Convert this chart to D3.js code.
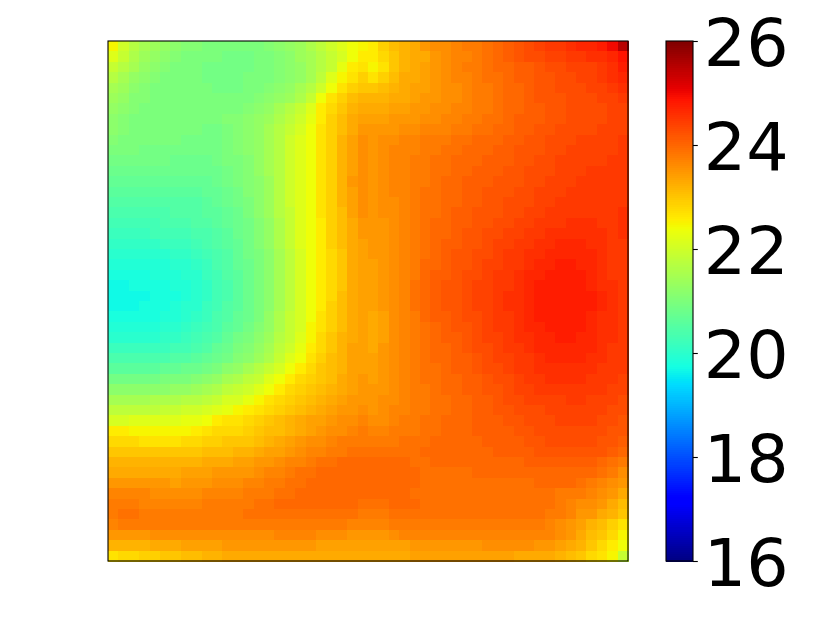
<!DOCTYPE html>
<html>
<head>
<meta charset="utf-8">
<script src="https://cdn.jsdelivr.net/npm/d3@7"></script>
<style>
body{margin:0;background:#fff;}
svg{display:block;}
</style>
</head>
<body>
<svg id="chart" width="822" height="617"></svg>
<script>
const cbarTicks=[16,18,20,22,24,26];
const cbarDomain=[16,26];
/* cell values, in tenths of a unit, top row first */
const heatTenths=[
[225,220,217,215,214,213,212,211,211,210,210,210,210,210,210,211,212,213,214,216,218,220,222,224,225,226,229,231,232,233,235,236,236,237,238,238,239,240,241,242,243,244,245,245,246,247,247,248,250,255],
[222,219,216,214,213,212,211,210,210,210,210,209,209,209,210,210,211,212,214,215,217,219,221,224,226,226,228,230,232,233,233,235,236,237,237,238,239,240,241,242,243,243,244,244,245,245,246,246,247,249],
[219,217,215,213,212,211,210,210,210,209,209,209,209,209,210,210,211,212,213,215,217,219,223,226,227,225,227,230,232,233,234,235,236,237,238,238,239,240,240,241,241,242,243,243,244,244,244,245,246,248],
[217,215,213,212,211,210,210,210,210,209,209,209,209,210,210,210,211,212,213,215,218,222,225,227,229,227,229,231,233,233,234,235,236,237,237,238,239,239,240,241,241,242,242,243,243,244,244,245,246,247],
[215,214,212,211,210,210,210,210,210,210,209,209,209,210,210,211,212,213,215,217,220,224,227,229,230,230,231,232,233,234,234,235,236,236,237,238,238,239,240,240,241,242,242,243,243,243,244,244,245,246],
[214,213,211,211,210,210,210,210,210,210,210,210,210,210,211,212,213,214,216,219,224,227,229,231,232,232,232,233,233,234,235,235,236,236,237,238,238,239,240,240,241,242,242,242,243,243,243,244,244,245],
[213,212,211,210,210,210,210,210,210,210,210,210,210,211,212,213,215,217,219,222,226,228,230,232,233,233,233,234,234,235,235,236,236,237,237,238,238,239,240,240,241,241,242,242,243,243,243,243,244,244],
[212,211,210,210,210,210,210,210,210,210,210,211,211,212,213,214,216,218,220,223,226,229,231,233,234,234,234,235,235,235,236,236,237,237,238,238,239,239,240,241,241,241,242,242,243,243,243,243,244,244],
[212,211,210,210,210,210,210,210,210,209,209,210,211,212,213,215,217,219,221,224,227,229,231,233,235,235,235,235,236,236,237,237,237,238,238,239,239,240,240,241,241,242,242,243,243,243,243,244,244,244],
[211,210,210,210,210,210,210,209,209,209,209,210,211,212,213,215,217,220,222,224,227,229,232,234,236,235,236,236,237,237,238,238,238,239,239,240,240,240,241,241,242,242,243,243,243,244,244,244,244,245],
[210,210,210,209,209,209,209,209,209,209,209,210,211,212,213,215,217,220,222,224,227,229,232,234,236,235,236,237,237,237,238,238,239,239,240,240,240,241,241,242,242,242,243,243,244,244,244,244,244,245],
[209,209,209,209,209,209,208,208,208,208,209,210,210,211,213,215,217,220,222,224,227,229,232,234,236,235,236,237,237,238,238,239,239,240,240,240,241,241,241,242,242,243,243,244,244,244,244,244,245,245],
[208,208,208,208,208,208,208,208,208,208,208,209,210,211,213,215,217,220,222,224,227,229,232,234,236,235,236,237,237,238,238,239,239,240,240,241,241,241,242,242,243,243,243,244,244,244,245,245,245,245],
[207,207,207,207,207,207,207,207,207,207,208,209,210,211,212,214,217,220,222,224,227,229,232,235,236,235,236,237,237,238,238,239,240,240,241,241,241,242,242,242,243,243,244,244,244,245,245,245,245,245],
[206,206,206,206,206,206,206,206,206,207,207,208,209,211,212,214,217,220,222,224,227,229,232,234,236,235,236,237,237,238,239,239,240,240,241,241,242,242,242,243,243,244,244,244,245,245,245,245,245,245],
[205,205,205,205,205,205,205,205,205,206,207,208,209,210,212,214,217,220,222,224,227,229,232,234,236,235,236,236,237,238,239,239,240,240,241,241,242,242,243,243,243,244,244,245,245,245,245,245,245,245],
[204,204,204,204,204,204,205,205,205,206,206,207,208,210,212,214,217,219,222,224,227,229,231,234,236,235,236,236,237,238,239,239,240,241,241,242,242,242,243,243,244,244,245,245,245,245,245,245,245,246],
[203,203,203,203,203,204,204,204,205,205,206,207,208,209,211,213,216,219,222,224,226,229,231,233,235,235,235,236,237,238,239,240,240,241,241,242,242,243,243,244,244,245,245,245,246,246,246,245,245,246],
[202,202,202,202,203,203,203,203,204,204,205,206,208,209,211,213,216,219,222,224,226,229,231,233,235,235,235,236,237,238,239,240,240,241,242,242,243,243,244,244,245,245,246,246,246,246,246,246,245,246],
[201,201,201,201,201,202,202,202,203,204,205,206,207,209,211,213,216,219,222,224,226,229,231,233,234,235,235,236,237,238,239,240,241,241,242,242,243,244,244,245,245,246,246,247,247,247,246,246,245,245],
[200,200,200,200,200,200,201,201,202,203,204,205,207,209,210,212,215,218,221,224,226,228,230,233,234,235,235,236,237,238,239,240,241,242,242,243,243,244,245,245,246,246,247,247,247,247,247,246,245,245],
[199,199,199,199,199,199,200,200,201,202,204,205,207,208,210,212,215,218,221,224,226,228,230,233,234,234,235,236,237,238,240,240,241,242,242,243,244,244,245,245,246,247,247,248,248,247,247,246,245,245],
[198,198,198,198,199,199,199,200,200,202,203,205,206,208,210,212,215,218,221,224,226,228,230,233,234,234,235,236,237,238,240,241,241,242,243,243,244,245,245,246,247,247,248,248,248,248,247,246,245,245],
[197,197,198,198,198,198,199,199,200,201,203,204,206,208,210,212,215,218,221,224,226,228,230,233,234,234,235,236,237,239,240,241,242,242,243,244,244,245,245,246,247,248,248,248,248,248,247,246,246,245],
[197,197,197,197,198,198,198,199,200,201,203,204,206,208,210,212,215,218,221,224,226,228,231,233,234,234,235,236,237,239,240,241,242,242,243,244,244,245,246,246,247,248,248,248,248,248,248,247,246,245],
[197,197,197,198,198,198,199,200,200,202,203,205,206,208,210,212,215,218,221,224,226,229,231,233,234,234,235,236,237,239,240,241,242,242,243,244,244,245,246,246,247,248,248,248,248,248,248,247,246,245],
[198,198,198,198,198,199,199,200,201,202,204,205,207,208,210,213,216,219,221,224,227,229,231,233,234,233,234,236,237,238,240,241,241,242,243,243,244,245,245,246,247,248,248,248,248,248,247,246,246,245],
[199,199,199,199,199,200,200,201,202,203,204,206,207,209,211,213,216,219,221,225,227,229,231,233,234,233,234,236,237,238,239,240,241,242,242,243,244,245,245,246,247,247,248,248,248,248,247,246,246,245],
[200,200,200,200,200,201,201,202,203,204,205,207,209,210,212,214,217,219,222,225,228,230,232,233,234,233,234,236,237,238,239,240,241,241,242,243,244,244,245,246,246,247,247,248,248,247,247,246,246,245],
[202,202,202,202,202,202,203,203,204,205,207,208,210,211,213,215,218,220,223,226,228,230,232,234,234,233,235,236,237,238,239,240,240,241,242,243,243,244,245,245,246,247,247,247,247,247,247,246,245,245],
[204,204,204,204,204,204,205,205,206,207,208,209,211,212,214,216,219,222,224,227,229,231,232,234,234,234,235,236,237,238,239,240,240,241,241,242,243,244,244,245,245,246,247,247,247,247,246,246,245,245],
[206,206,206,206,206,207,207,208,208,209,210,212,213,215,217,219,221,224,226,228,230,231,232,234,234,234,235,236,237,238,239,239,240,241,241,242,243,243,244,245,245,246,246,246,246,246,246,245,245,245],
[209,209,209,209,209,210,210,210,211,212,213,215,216,218,219,222,224,226,228,229,230,231,233,234,235,234,235,236,237,238,239,239,240,240,241,241,242,243,243,244,245,245,246,246,246,246,245,245,245,244],
[212,212,212,212,212,212,213,213,214,215,216,218,219,220,222,224,226,228,229,230,231,232,233,234,235,235,235,236,237,238,238,239,240,240,241,241,242,242,243,244,244,245,245,245,245,245,245,245,244,244],
[215,215,215,215,216,216,216,217,217,218,219,221,221,223,225,227,228,229,230,231,232,233,234,235,235,235,236,236,237,238,238,239,239,240,240,241,241,242,243,243,244,244,244,244,245,245,244,244,244,243],
[218,218,218,218,218,219,219,220,220,221,222,223,225,226,227,228,229,230,231,232,233,234,235,235,236,235,236,237,237,238,238,239,239,240,240,241,241,242,242,243,243,243,244,244,244,244,244,244,243,243],
[221,221,222,222,222,222,222,223,223,224,226,227,227,228,229,230,231,232,233,234,234,235,236,236,237,236,236,237,238,238,239,239,240,240,240,241,241,241,242,242,243,243,243,244,244,244,244,243,243,242],
[226,226,225,225,225,225,225,225,226,227,228,228,228,229,230,231,231,232,233,234,235,236,236,237,238,237,237,238,238,238,239,239,240,240,240,241,241,241,241,242,242,243,243,243,243,243,243,243,242,242],
[228,228,228,227,227,227,227,228,228,229,229,230,230,230,231,232,233,234,235,236,236,237,238,238,238,238,238,238,239,239,239,240,240,240,240,240,241,241,241,241,242,242,243,243,243,243,243,242,242,241],
[230,230,230,230,230,230,230,230,230,231,231,231,232,232,233,234,234,235,236,237,237,238,238,239,239,239,239,239,239,239,240,240,240,240,240,240,240,241,241,241,241,242,242,242,242,242,242,242,241,240],
[232,232,232,232,232,232,232,232,232,233,233,233,234,234,235,235,236,237,237,238,239,239,240,240,240,240,240,240,240,239,239,240,240,240,240,240,240,240,240,240,241,241,241,241,241,241,241,240,239,238],
[233,233,233,233,233,233,233,234,234,234,235,235,235,235,236,237,237,238,239,239,240,240,240,240,240,240,240,240,240,240,239,239,239,239,239,240,240,240,240,240,240,240,240,240,240,240,240,239,238,236],
[235,235,235,235,235,235,234,235,235,235,236,236,236,237,237,238,238,239,239,240,240,240,240,240,240,240,240,240,240,240,239,239,239,239,239,239,239,239,239,239,239,240,240,240,240,239,238,237,236,235],
[237,237,237,237,236,236,236,236,236,237,237,237,237,238,238,238,239,239,240,240,240,240,240,240,240,240,240,240,240,239,239,239,239,239,239,239,239,239,239,239,239,239,239,238,238,238,237,236,235,233],
[238,238,238,237,237,237,237,237,237,238,238,238,238,238,239,239,240,240,240,240,240,240,240,240,239,239,239,240,240,240,239,239,239,239,239,239,239,239,239,239,239,239,239,238,237,236,236,235,233,231],
[238,239,239,238,238,238,238,238,238,238,238,238,238,239,239,239,239,239,239,239,239,239,239,239,238,238,238,239,239,239,239,239,239,239,239,239,239,239,239,239,239,239,238,238,237,235,235,233,232,230],
[237,238,238,238,238,238,238,238,238,238,238,238,238,238,238,238,238,238,238,238,238,238,238,237,237,237,237,238,238,238,238,238,238,238,238,238,238,238,238,238,238,238,237,236,235,234,232,231,229,227],
[235,235,235,235,236,236,236,236,236,236,236,236,236,236,236,236,237,237,237,237,236,236,236,235,235,235,235,236,237,237,237,237,237,237,237,237,237,237,237,237,237,237,237,236,235,233,231,230,228,225],
[232,232,232,232,233,233,233,234,234,234,234,235,235,235,235,235,235,235,235,235,234,234,234,234,234,234,234,234,234,235,235,235,235,235,235,235,236,236,236,236,236,235,235,234,233,232,230,228,226,224],
[227,228,228,229,229,230,230,231,231,232,232,233,233,233,233,233,233,233,233,233,233,233,233,233,233,233,233,233,233,234,234,234,234,234,234,234,234,234,234,233,233,233,233,232,231,230,228,227,225,219]
];

/* jet, same breakpoints as matplotlib */
const jetR=d3.scaleLinear().domain([0,.35,.66,.89,1]).range([0,0,1,1,.5]).clamp(true);
const jetG=d3.scaleLinear().domain([0,.125,.375,.64,.91,1]).range([0,0,1,1,0,0]).clamp(true);
const jetB=d3.scaleLinear().domain([0,.11,.34,.65,1]).range([.5,1,1,0,0]).clamp(true);
const jet=t=>`rgb(${Math.round(jetR(t)*255)},${Math.round(jetG(t)*255)},${Math.round(jetB(t)*255)})`;
const toUnit=d3.scaleLinear().domain(cbarDomain).range([0,1]);

const svg=d3.select("#chart");
const plot={left:108,top:41,size:520};
const x=d3.scaleBand().domain(d3.range(50)).range([plot.left,plot.left+plot.size]);
const y=d3.scaleBand().domain(d3.range(50)).range([plot.top,plot.top+plot.size]);

/* Heatmap */
const cells=heatTenths.flatMap((row,r)=>row.map((v,c)=>({r,c,v:v/10})));
svg.append("g").attr("shape-rendering","crispEdges").selectAll("rect").data(cells).enter().append("rect")
  .attr("x",d=>x(d.c)).attr("y",d=>y(d.r))
  .attr("width",x.bandwidth()+.5).attr("height",y.bandwidth()+.5)
  .attr("fill",d=>jet(toUnit(d.v)));
svg.append("rect").attr("x",plot.left).attr("y",plot.top).attr("width",plot.size).attr("height",plot.size)
  .attr("fill","none").attr("stroke","#000").attr("stroke-width",1.1);

/* Colorbar */
const cbar={left:666,width:27};
const cy=d3.scaleLinear().domain(cbarDomain).range([plot.top+plot.size,plot.top]);
const levels=d3.range(256);
svg.append("g").attr("shape-rendering","crispEdges").selectAll("rect").data(levels).enter().append("rect")
  .attr("x",cbar.left).attr("width",cbar.width)
  .attr("y",i=>plot.top+plot.size*(255-i)/256)
  .attr("height",plot.size/256+1)
  .attr("fill",i=>jet((i+.5)/256));
svg.append("rect").attr("x",cbar.left).attr("y",plot.top).attr("width",cbar.width).attr("height",plot.size)
  .attr("fill","none").attr("stroke","#000").attr("stroke-width",1.1);

const axis=d3.axisRight(cy).tickValues(cbarTicks).tickSize(4.8).tickPadding(6);
const axisG=svg.append("g").attr("transform",`translate(${cbar.left+cbar.width},0)`).call(axis);
axisG.select(".domain").remove();
axisG.selectAll("line").attr("stroke","#000").attr("stroke-width",1.1);
axisG.selectAll("text").attr("font-family","'DejaVu Sans'").attr("font-size",66.67).attr("fill","#000").attr("dy",".365em");
</script>
</body>
</html>
